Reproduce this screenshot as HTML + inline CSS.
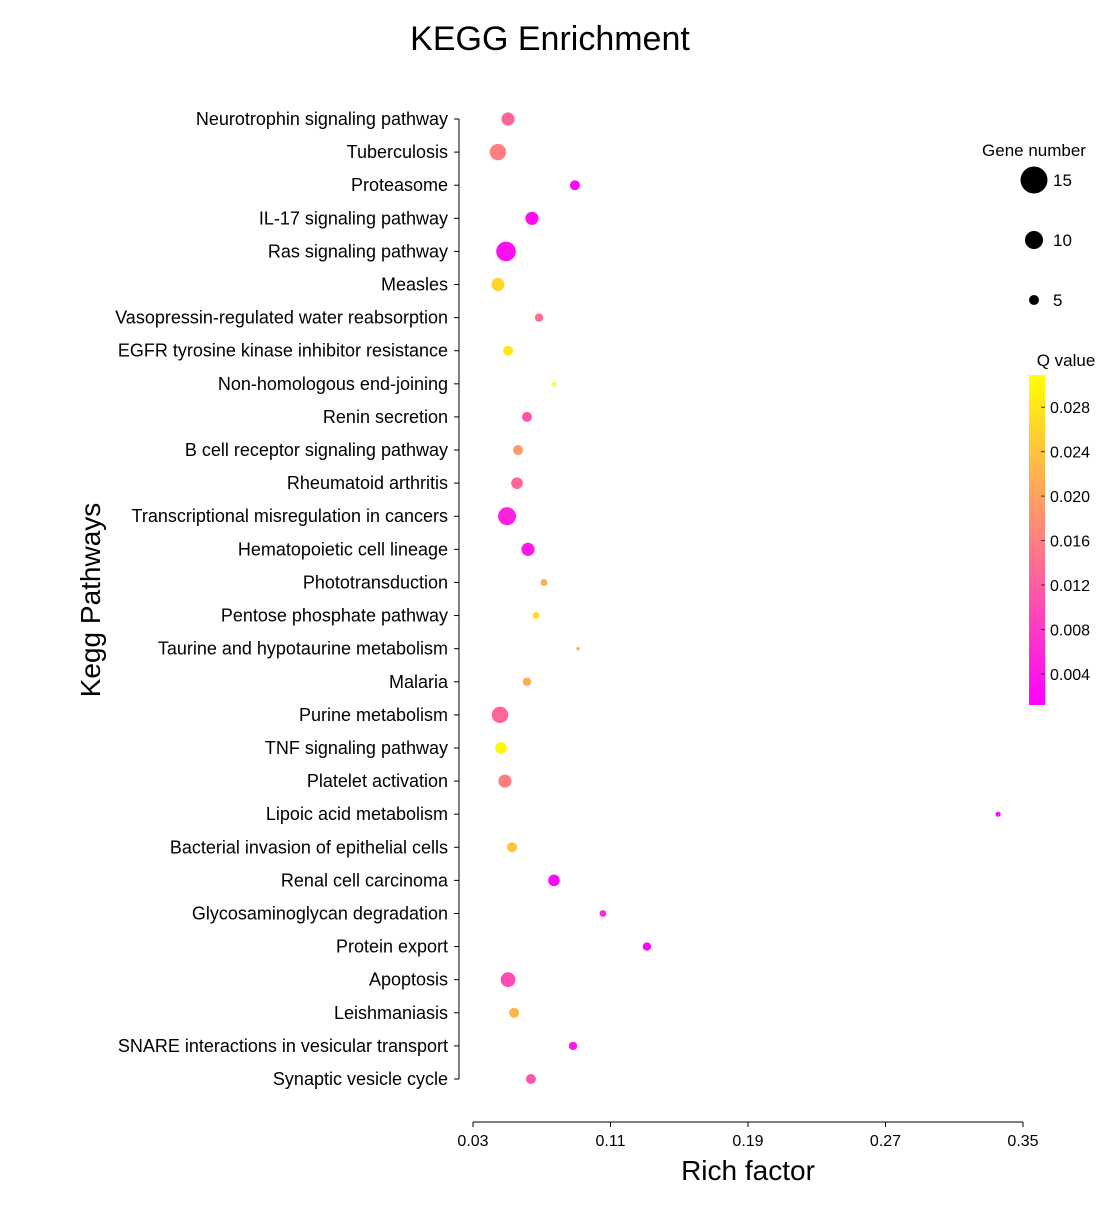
<!DOCTYPE html>
<html><head><meta charset="utf-8"><style>
body{margin:0;background:#fff;font-family:"Liberation Sans","DejaVu Sans",sans-serif;}
svg text{font-family:"Liberation Sans","DejaVu Sans",sans-serif;fill:#000;}
</style></head><body>
<svg id="chart" width="1100" height="1200">
<defs><linearGradient id="qg" x1="0" y1="1" x2="0" y2="0">
<stop offset="0" stop-color="#ff00ff"/><stop offset="1" stop-color="#ffff00"/></linearGradient></defs>
<text x="550" y="50" font-size="34" text-anchor="middle">KEGG Enrichment</text>
<text transform="translate(100,600) rotate(-90)" font-size="28" text-anchor="middle">Kegg Pathways</text>
<text x="748" y="1180" font-size="28" text-anchor="middle">Rich factor</text>
<g id="yaxis"></g>
<g id="xaxis"></g>
<g id="points"></g>
<g id="legend"></g>
</svg>
<script>
const categories=["Neurotrophin signaling pathway","Tuberculosis","Proteasome","IL-17 signaling pathway","Ras signaling pathway","Measles","Vasopressin-regulated water reabsorption","EGFR tyrosine kinase inhibitor resistance","Non-homologous end-joining","Renin secretion","B cell receptor signaling pathway","Rheumatoid arthritis","Transcriptional misregulation in cancers","Hematopoietic cell lineage","Phototransduction","Pentose phosphate pathway","Taurine and hypotaurine metabolism","Malaria","Purine metabolism","TNF signaling pathway","Platelet activation","Lipoic acid metabolism","Bacterial invasion of epithelial cells","Renal cell carcinoma","Glycosaminoglycan degradation","Protein export","Apoptosis","Leishmaniasis","SNARE interactions in vesicular transport","Synaptic vesicle cycle"];
const richFactor=[0.0504,0.0445,0.0893,0.0643,0.0492,0.0445,0.0684,0.0504,0.0771,0.0614,0.0562,0.0556,0.0498,0.062,0.0713,0.0667,0.0911,0.0614,0.0457,0.0463,0.0486,0.3355,0.0527,0.0771,0.1056,0.1312,0.0504,0.0539,0.0882,0.0637];
const geneNumber=[7,9,5,7,11,7,4,5,1,5,5,6,10,7,3,3,1,4,9,6,7,2,5,6,3,4,8,5,4,5];
const qValue=[0.013,0.016,0.002,0.003,0.003,0.026,0.014,0.028,0.031,0.011,0.019,0.013,0.005,0.004,0.021,0.027,0.022,0.021,0.013,0.030,0.016,0.003,0.024,0.002,0.006,0.002,0.010,0.022,0.004,0.011];
const xTicks=[0.03,0.11,0.19,0.27,0.35];
const qTicks=[0.004,0.008,0.012,0.016,0.020,0.024,0.028];
const sizeLegend=[15,10,5];
const NS="http://www.w3.org/2000/svg";
function mk(t,a,p){const e=document.createElementNS(NS,t);for(const k in a)e.setAttribute(k,a[k]);p.appendChild(e);return e;}
const X=v=>473+(v-0.03)*(550/0.32);
const Y=i=>119+i*(960/29);
const R=n=>1+0.8*n;
const qMin=0.0012,qMax=0.0309;
const QY=q=>705-(q-qMin)/(qMax-qMin)*330;
function col(q){let t=(q-qMin)/(qMax-qMin);t=Math.max(0,Math.min(1,t));return `rgb(255,${Math.round(255*t)},${Math.round(255*(1-t))})`;}
const ya=document.getElementById('yaxis');
mk('line',{x1:459,y1:119,x2:459,y2:1079,stroke:'#000'},ya);
categories.forEach((c,i)=>{
 mk('line',{x1:454,y1:Y(i),x2:459,y2:Y(i),stroke:'#000'},ya);
 const t=mk('text',{x:448,y:Y(i)+6,'font-size':18,'text-anchor':'end'},ya);t.textContent=c;
 
 
});
const xa=document.getElementById('xaxis');
mk('line',{x1:473,y1:1122,x2:1023,y2:1122,stroke:'#000'},xa);
xTicks.forEach(v=>{
 mk('line',{x1:X(v),y1:1122,x2:X(v),y2:1127,stroke:'#000'},xa);
 const t=mk('text',{x:X(v),y:1146,'font-size':16,'text-anchor':'middle'},xa);t.textContent=v.toFixed(2);
 
 
});
const pg=document.getElementById('points');
categories.forEach((c,i)=>{
 const e=mk('circle',{cx:X(richFactor[i]),cy:Y(i),r:R(geneNumber[i]),fill:col(qValue[i])},pg);
 
 
});
const lg=document.getElementById('legend');
let t=mk('text',{x:1034,y:156,'font-size':17,'text-anchor':'middle'},lg);t.textContent='Gene number';


sizeLegend.forEach((n,k)=>{
 const y=180+k*60;
 const c=mk('circle',{cx:1034,cy:y,r:n===15?13.5:n===10?9:5,fill:'#000'},lg);
 
 
 const tt=mk('text',{x:1053,y:y+6,'font-size':17},lg);tt.textContent=n;
 
 
});
t=mk('text',{x:1066,y:366,'font-size':17,'text-anchor':'middle'},lg);t.textContent='Q value';


const cb=mk('rect',{x:1029,y:375,width:16,height:330,fill:'url(#qg)'},lg);


qTicks.forEach(q=>{
 mk('line',{x1:1041,y1:QY(q),x2:1045,y2:QY(q),stroke:'#333'},lg);
 const tt=mk('text',{x:1050,y:QY(q)+6,'font-size':16},lg);tt.textContent=q.toFixed(3);
 
 
});
</script>
</body></html>
